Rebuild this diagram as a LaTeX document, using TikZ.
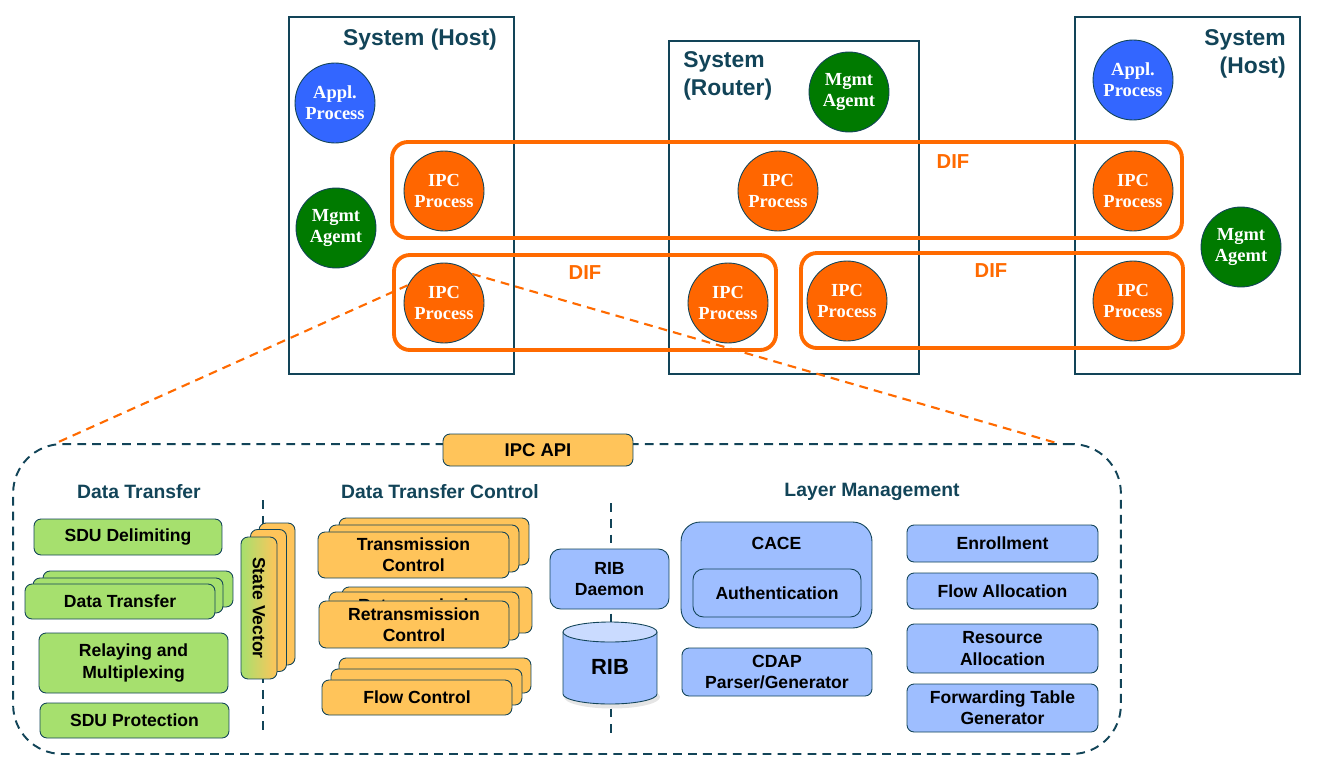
\documentclass[tikz,border=0pt]{standalone}
\usepackage{fontspec}
\setmainfont{Liberation Sans}
\newfontfamily\procfont{Liberation Serif}
\usetikzlibrary{positioning}

\definecolor{ink}{RGB}{18,68,88}
\definecolor{difor}{RGB}{255,106,0}
\definecolor{procor}{RGB}{255,102,0}
\definecolor{procbl}{RGB}{51,102,255}
\definecolor{procgr}{RGB}{0,122,0}
\definecolor{boxgr}{RGB}{166,224,110}
\definecolor{boxor}{RGB}{255,196,90}
\definecolor{boxbl}{RGB}{158,190,255}

\tikzset{
    sysbox/.style={draw=ink, line width=0.7pt, inner sep=0pt},
    difbox/.style={draw=difor, line width=2.2pt, rounded corners=9pt, inner sep=0pt},
    proc/.style={circle, draw=ink, line width=0.5pt, minimum size=1.6cm, inner sep=0pt, align=center, text=white, font=\procfont\bfseries\fontsize{10.5}{12}\selectfont},
    ipcproc/.style={proc, fill=procor},
    applproc/.style={proc, fill=procbl},
    mgmtproc/.style={proc, fill=procgr},
    systitle/.style={font=\bfseries\fontsize{13}{16}\selectfont, text=ink, inner sep=0pt},
    diflabel/.style={font=\bfseries\fontsize{11.5}{14}\selectfont, text=difor, inner sep=0pt},
    header/.style={font=\bfseries\fontsize{11}{13}\selectfont, text=ink, inner sep=0pt},
    blk/.style={draw=ink, line width=0.5pt, rounded corners=4pt, align=center, inner sep=0pt, font=\bfseries\fontsize{10}{12}\selectfont},
    grnblk/.style={blk, fill=boxgr},
    orgblk/.style={blk, fill=boxor},
    blublk/.style={blk, fill=boxbl},
    sepline/.style={draw=ink, line width=1pt, dash pattern=on 5pt off 4pt},
    zoomline/.style={draw=difor, line width=1.2pt, dash pattern=on 5pt off 3.5pt},
}

\begin{document}
\begin{tikzpicture}[x=0.02cm, y=-0.02cm]
    \useasboundingbox (0,0) rectangle (1317,774);

    % systems
    \node[sysbox, minimum width=4.5cm, minimum height=7.14cm] (hostA) at (401.5,195.5) {};
    \node[sysbox, minimum width=5cm, minimum height=6.66cm] (router) at (794,207.5) {};
    \node[sysbox, minimum width=4.5cm, minimum height=7.14cm] (hostC) at (1187.5,195.5) {};
    \node[systitle] (titleA) at (420,40) {System (Host)};
    \node[systitle, anchor=west, align=left] (titleB) at (683,76) {System\\(Router)};
    \node[systitle, anchor=east, align=right] (titleC) at (1286,54) {System\\(Host)};

    % DIFs
    \node[difbox, minimum width=15.8cm, minimum height=1.92cm] (difTop) at (787,190) {};
    \node[difbox, minimum width=7.64cm, minimum height=1.9cm] (difL) at (585,302.5) {};
    \node[difbox, minimum width=7.64cm, minimum height=1.9cm] (difR) at (992,300.5) {};
    \node[diflabel] (difTopLbl) at (953,162) {DIF};
    \node[diflabel] (difLLbl) at (585,273) {DIF};
    \node[diflabel] (difRLbl) at (991,271) {DIF};

    % zoom lines
    \coordinate (zl) at (54,444);
    \coordinate (zr) at (1060,444);

    % processes
    \node[applproc] (apA) at (335,103) {Appl.\\Process};
    \node[mgmtproc] (mgA) at (336,228) {Mgmt\\Agemt};
    \node[ipcproc] (ipA1) at (444,191) {IPC\\Process};
    \node[ipcproc] (ipA2) at (444,303) {IPC\\Process};
    \node[mgmtproc] (mgB) at (849,92) {Mgmt\\Agemt};
    \node[ipcproc] (ipB1) at (778,191) {IPC\\Process};
    \node[ipcproc] (ipB2) at (728,303) {IPC\\Process};
    \node[ipcproc] (ipB3) at (847,301) {IPC\\Process};
    \node[applproc] (apC) at (1133,80) {Appl.\\Process};
    \node[ipcproc] (ipC1) at (1133,191) {IPC\\Process};
    \node[ipcproc] (ipC2) at (1133,301) {IPC\\Process};
    \node[mgmtproc] (mgC) at (1241,247) {Mgmt\\Agemt};

    \draw[zoomline] (ipA2.154) -- (zl);
    \draw[zoomline] (ipA2.46) -- (zr);

    % IPC process detail
    \node[draw=ink, line width=1.1pt, dash pattern=on 5pt off 3.5pt, rounded corners=28pt, minimum width=22.16cm, minimum height=6.2cm] (ipcbox) at (567,599) {};
    \node[orgblk, minimum width=3.8cm, minimum height=0.64cm, font=\bfseries\fontsize{10.5}{12}\selectfont] (api) at (538,450) {IPC API};

    \node[header] (hdDT) at (139,492) {Data Transfer};
    \node[header] (hdDTC) at (440,492) {Data Transfer Control};
    \node[header] (hdLM) at (872,492) {Layer Management};

    \draw[sepline] (263,500) -- (263,735);
    \draw[sepline] (611,503) -- (611,740);

    % data transfer
    \node[grnblk, minimum width=3.76cm, minimum height=0.72cm] (sduDel) at (128,537) {SDU Delimiting};
    \node[grnblk, minimum width=3.8cm, minimum height=0.72cm] (dt3) at (138,589) {};
    \node[grnblk, minimum width=3.8cm, minimum height=0.7cm] (dt2) at (128,595.5) {};
    \node[grnblk, minimum width=3.8cm, minimum height=0.7cm] (dt1) at (120,601.5) {Data Transfer};
    \node[grnblk, minimum width=3.78cm, minimum height=1.2cm] (relay) at (133.5,663) {Relaying and\\Multiplexing};
    \node[grnblk, minimum width=3.78cm, minimum height=0.7cm] (sduProt) at (134.5,720.5) {SDU Protection};

    \node[orgblk, minimum width=0.72cm, minimum height=2.84cm] (sv3) at (277,594) {};
    \node[orgblk, minimum width=0.72cm, minimum height=2.84cm] (sv2) at (268.5,600.5) {};
    \node[blk, left color=boxgr, right color=boxor, minimum width=0.72cm, minimum height=2.84cm] (sv1) at (259,608) {};
    \node[rotate=-90, font=\bfseries\fontsize{10}{12}\selectfont, inner sep=0pt] (svLbl) at (sv1) {State Vector};

    % data transfer control
    \node[orgblk, minimum width=3.8cm, minimum height=0.94cm] (tc3) at (434,541.5) {};
    \node[orgblk, minimum width=3.8cm, minimum height=0.94cm] (tc2) at (424,548.5) {};
    \node[orgblk, minimum width=3.82cm, minimum height=0.92cm] (tc1) at (413.5,555) {Transmission\\Control};
    \node[orgblk, minimum width=3.8cm, minimum height=0.92cm] (rc3) at (437,610) {};
    \node[orgblk, minimum width=3.8cm, minimum height=0.96cm] (rc2) at (424,616) {Retransmission\\Control};
    \node[orgblk, minimum width=3.8cm, minimum height=0.94cm] (rc1) at (414,624.5) {Retransmission\\Control};
    \node[orgblk, minimum width=3.84cm, minimum height=0.7cm] (fc3) at (435,675.5) {};
    \node[orgblk, minimum width=3.82cm, minimum height=0.72cm] (fc2) at (426.5,687) {};
    \node[orgblk, minimum width=3.8cm, minimum height=0.7cm] (fc1) at (417,697.5) {Flow Control};

    % RIB
    \node[blublk, minimum width=2.38cm, minimum height=1.2cm, rounded corners=6pt] (ribd) at (609.5,579) {RIB\\Daemon};
    \fill[black!10] (612,697) ellipse [x radius=0.96cm, y radius=0.23cm];
    \filldraw[fill=boxbl, draw=ink, line width=0.5pt] (563,632) -- (563,694) arc[start angle=180, end angle=360, x radius=0.94cm, y radius=0.2cm] -- (657,632) -- cycle;
    \filldraw[fill=boxbl!55!white, draw=ink, line width=0.5pt] (610,632) ellipse [x radius=0.94cm, y radius=0.2cm];
    \node[font=\bfseries\fontsize{12.5}{14}\selectfont, inner sep=0pt] (rib) at (610,667) {RIB};

    % layer management
    \node[blublk, minimum width=3.82cm, minimum height=2.12cm, rounded corners=11pt] (cace) at (776.5,575) {};
    \node[font=\bfseries\fontsize{10}{12}\selectfont, inner sep=0pt] (caceLbl) at (776.5,543) {CACE};
    \node[blublk, minimum width=3.36cm, minimum height=0.96cm, rounded corners=6pt] (auth) at (777,593) {Authentication};
    \node[blublk, minimum width=3.8cm, minimum height=0.96cm] (cdap) at (777,672) {CDAP\\Parser/Generator};

    \node[blublk, minimum width=3.82cm, minimum height=0.74cm] (enroll) at (1002.5,543.5) {Enrollment};
    \node[blublk, minimum width=3.82cm, minimum height=0.72cm] (flowAlloc) at (1002.5,591) {Flow Allocation};
    \node[blublk, minimum width=3.82cm, minimum height=0.98cm] (resAlloc) at (1002.5,648.5) {Resource\\Allocation};
    \node[blublk, minimum width=3.82cm, minimum height=0.96cm] (fwdGen) at (1002.5,708) {Forwarding Table\\Generator};
\end{tikzpicture}
\end{document}
